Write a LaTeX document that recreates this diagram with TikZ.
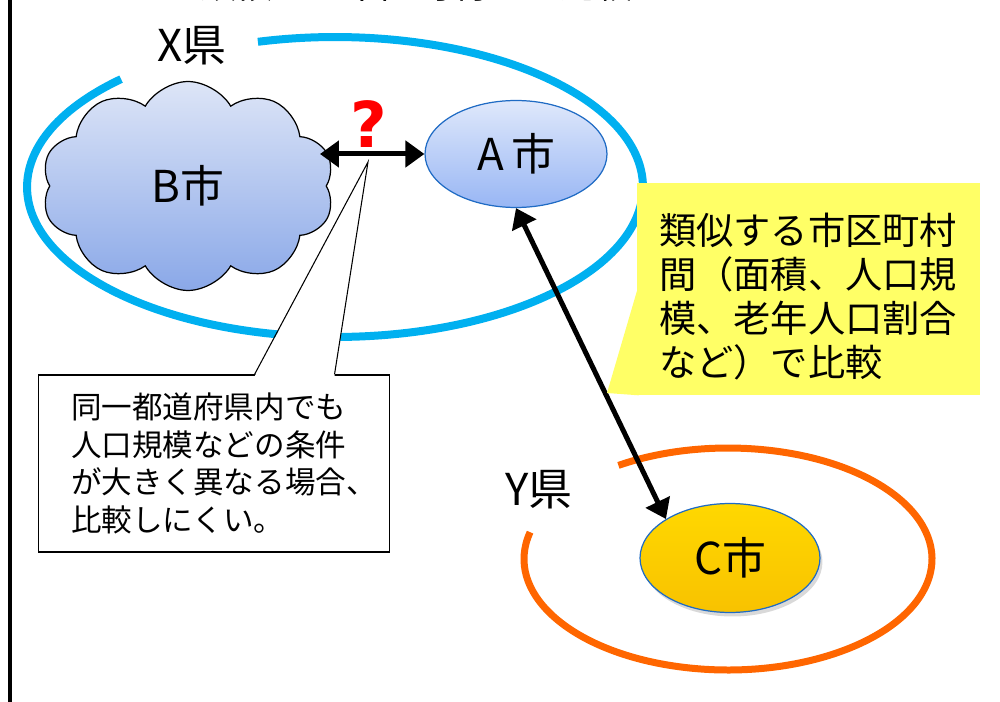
\documentclass[tikz,border=0pt]{standalone}
\usepackage{fontspec}
\setmainfont{Noto Sans CJK JP}
\newfontfamily\qfont{DejaVu Sans}
\usepackage{tikz}
\usetikzlibrary{arrows.meta,shapes.geometric,shapes.symbols,shadows,calc}
\definecolor{ringx}{HTML}{00B0F0}
\definecolor{ringy}{HTML}{FF6600}
\definecolor{cityline}{HTML}{1F6BC4}
\definecolor{notey}{HTML}{FFFF66}
\definecolor{atop}{HTML}{DFE8FB}
\definecolor{abot}{HTML}{98B6F4}
\definecolor{btop}{HTML}{DDE5F7}
\definecolor{bbot}{HTML}{8AA8E8}
\definecolor{ctop}{HTML}{FFD800}
\definecolor{cmid}{HTML}{E6B300}
\definecolor{cbot}{HTML}{F8C200}
\tikzset{
  ring/.style={line width=0.16cm},
  city/.style={ellipse,draw=cityline,line width=0.7pt,inner sep=0pt,font=\fontsize{25}{30}\selectfont},
  pref/.style={font=\fontsize{25}{30}\selectfont},
  dblarrow/.style={line width=0.1cm,{Triangle[length=0.38cm,width=0.52cm]}-{Triangle[length=0.38cm,width=0.52cm]}},
  notebox/.style={draw,line width=0.6pt,fill=white,align=left,inner xsep=0.66cm,text width=5.72cm,
    minimum height=3.54cm,font=\fontsize{17.4}{21.4}\selectfont},
  ybox/.style={fill=notey,align=left,inner xsep=0.44cm,text width=5.98cm,
    minimum height=4.24cm,font=\fontsize{21.2}{25}\selectfont}
}
\begin{document}
\begin{tikzpicture}[x=0.02cm,y=-0.02cm]
   \useasboundingbox (0,0) rectangle (1000,702);
   \clip (0,0) rectangle (1000,702);
   \node[anchor=base west,inner sep=0pt,font=\fontsize{20.5}{24}\selectfont] (title) at (200,-1.5) {類似する市区町村との比較イメージ};
   \draw[line width=0.09cm] (10,0) -- (10,702);
   % prefectures
   \coordinate (xc) at (335,187);
   \coordinate (yc) at (728,559);
   \draw[ring,ringx] ($(xc)+(134:6.16cm and 3cm)$) arc[start angle=134,end angle=464.5,x radius=6.16cm,y radius=3cm];
   \draw[ring,ringy,line width=0.14cm] ($(yc)+(166:4.08cm and 2.22cm)$) arc[start angle=166,end angle=482.5,x radius=4.08cm,y radius=2.22cm];
   \node[pref] (X) at (192,46) {X県};
   \node[pref] (Y) at (539,490) {Y県};
   % cities
   \node[cloud,cloud puffs=10,cloud puff arc=120,aspect=1.45,draw,line width=0.7pt,
     minimum width=5.86cm,minimum height=4.18cm,top color=btop,bottom color=bbot,
     font=\fontsize{25}{30}\selectfont] (B) at (188,186) {B市};
   \node[city,minimum width=3.64cm,minimum height=2.14cm,top color=atop,bottom color=abot] (A) at (516,154) {A\,市};
   \node[city,minimum width=3.6cm,minimum height=2.18cm,top color=ctop,middle color=cmid,bottom color=cbot,
     drop shadow={shadow xshift=0.05cm,shadow yshift=-0.08cm,opacity=0.3}] (C) at (730,558) {C市};
   \draw[dblarrow] ($(B.east |- A.west)+(-7,0)$) -- (A.west);
   \draw[dblarrow] (A.south) -- (C.north west);
   \node[text=red,font=\qfont\bfseries\fontsize{36}{38}\selectfont] (qmark) at (369,124) {?};
   % callouts
   \node[notebox] (note) at (214,463.5) {同一都道府県内でも\\人口規模などの条件\\が大きく異なる場合、\\比較しにくい。};
   \coordinate (qtip) at (368,162);
   \fill[white] ($(note.north west)+(217,2)$) -- (qtip) -- ($(note.north west)+(297,2)$) -- cycle;
   \draw[line width=0.6pt] ($(note.north west)+(217,0)$) -- (qtip) -- ($(note.north west)+(297,0)$);
   \node[ybox] (ynote) at (808.5,289) {\rule{0pt}{26.6pt}類似する市区町村\\間（面積、人口規\\模、老年人口割合\\など）で比較};
   \coordinate (ytip) at (607,393);
   \fill[notey] ($(ynote.west)+(2,-4)$) -- (ytip) -- ($(ynote.south west)+(2,0)$) -- cycle;
\end{tikzpicture}
\end{document}
